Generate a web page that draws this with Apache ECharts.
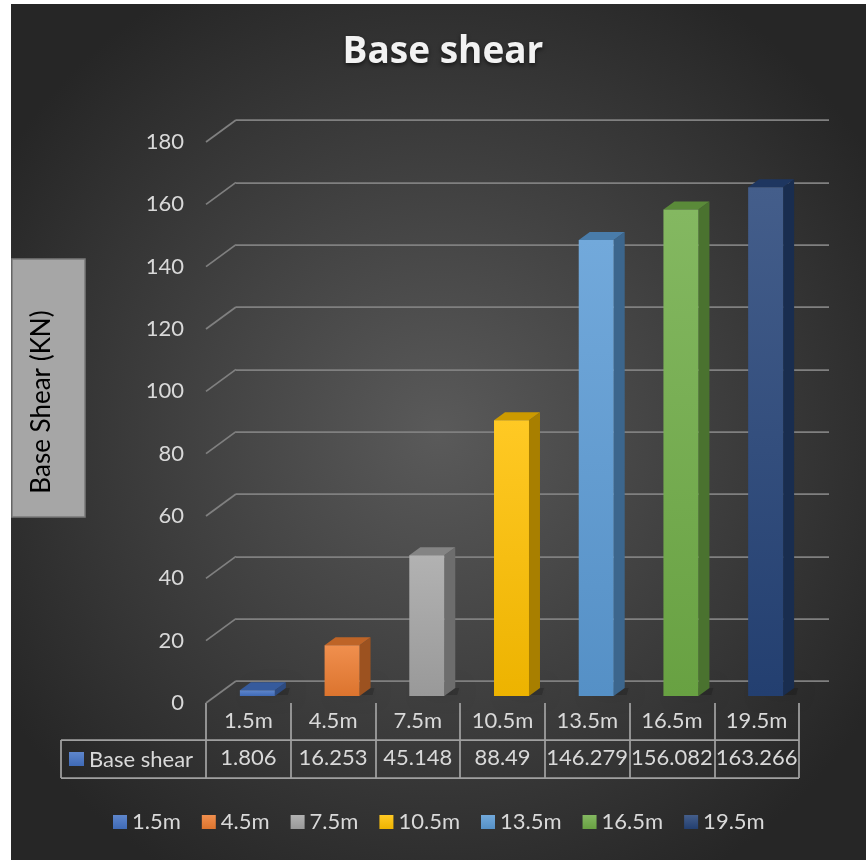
<!DOCTYPE html>
<html>
<head>
<meta charset="utf-8">
<script src="https://cdn.jsdelivr.net/npm/echarts@6/dist/echarts.min.js"></script>
<style>
  html, body { margin: 0; padding: 0; background: #ffffff; }
  #backdrop {
    position: absolute; left: 11px; top: 4px; width: 855px; height: 856px;
    background: radial-gradient(ellipse farthest-corner at 50% 50%, #5a5a5a 0%, #262626 85%);
  }
  #chart { position: absolute; left: 0; top: 0; width: 866px; height: 867px; }
</style>
</head>
<body>
<div id="backdrop"></div>
<div id="chart"></div>
<script>
// ---- data ----
const categories = ['1.5m', '4.5m', '7.5m', '10.5m', '13.5m', '16.5m', '19.5m'];
const baseShear = [1.806, 16.253, 45.148, 88.49, 146.279, 156.082, 163.266];
const yTicks = [0, 20, 40, 60, 80, 100, 120, 140, 160, 180];
const seriesName = 'Base shear';
const titleText = 'Base shear';
const yAxisTitle = 'Base Shear (KN)';

// ---- styles ----
const barColors = ['#4472c4', '#ed7d31', '#a5a5a5', '#ffc000', '#5b9bd5', '#70ad47', '#264478'];
const FONT = 'Lato, "Open Sans", sans-serif';
const TEXT_COLOR = '#d9d9d9';
const GRID_COLOR = '#808080';
const TABLE_COLOR = '#a0a0a0';

// ---- layout (pixels) ----
const FRONT = { left: 206, top: 142, width: 593, height: 561 };   // front plane of the floor
const BACK_OFF = { x: 30, y: -22 };                               // back wall offset
const BAR_OFF = { x: 9, y: -7 };                                  // plane of the bar fronts
const DEPTH = { x: 11, y: 8 };                                    // bar depth
const BAR_RATIO = 0.413;
const ROW_H = 37;

function mix(hex, target, t) {
  const a = parseInt(hex.slice(1), 16), b = parseInt(target.slice(1), 16);
  const ch = (s) => Math.round(((a >> s) & 255) * (1 - t) + ((b >> s) & 255) * t);
  return 'rgb(' + ch(16) + ',' + ch(8) + ',' + ch(0) + ')';
}
function frontGradient(c) {
  return new echarts.graphic.LinearGradient(0, 0, 0, 1, [
    { offset: 0, color: mix(c, '#ffffff', 0.14) },
    { offset: 1, color: mix(c, '#000000', 0.07) }
  ]);
}

function renderBar(params, api) {
  const idx = api.value(0);
  const v = api.value(1);
  const c = barColors[idx];
  const base = api.coord([idx, 0]);
  const top = api.coord([idx, v]);
  const bw = api.size([1, 0])[0] * BAR_RATIO;
  const x0 = base[0] - bw / 2, x1 = base[0] + bw / 2;
  const yb = base[1], yt = top[1];
  const dx = DEPTH.x, dy = DEPTH.y;
  return {
    type: 'group',
    children: [
      {
        type: 'polygon',
        shape: { points: [[x0 + 10, yb - 1], [x1 + dx + 2, yb - 1], [x1 + dx + 4, yb - dy], [x0 + dx + 10, yb - dy]] },
        style: { fill: 'rgba(0,0,0,0.18)', shadowBlur: 16, shadowColor: 'rgba(0,0,0,0.7)' }
      },
      {
        type: 'polygon',
        shape: { points: [[x1, yt], [x1 + dx, yt - dy], [x1 + dx, yb - dy], [x1, yb]] },
        style: { fill: mix(c, '#000000', 0.34) }
      },
      {
        type: 'polygon',
        shape: { points: [[x0, yt], [x0 + dx, yt - dy], [x1 + dx, yt - dy], [x1, yt]] },
        style: { fill: mix(c, '#000000', 0.2) }
      },
      {
        type: 'rect',
        shape: { x: x0, y: yt, width: bw, height: yb - yt },
        style: { fill: frontGradient(c) }
      }
    ]
  };
}

function renderSlant(params, api) {
  const y = api.coord([0, api.value(1)])[1];
  const cs = params.coordSys;
  return {
    type: 'line',
    shape: { x1: cs.x - BACK_OFF.x, y1: y - BACK_OFF.y, x2: cs.x, y2: y },
    style: { stroke: GRID_COLOR, lineWidth: 1.75 }
  };
}

const hiddenAxis = { show: false };
const yScale = { type: 'value', min: 0, max: 180, interval: 20 };

const barSeries = categories.map((name, i) => ({
  name: name,
  type: 'custom',
  xAxisIndex: 3,
  yAxisIndex: 2,
  data: [[i, baseShear[i]]],
  renderItem: renderBar,
  itemStyle: { color: frontGradient(barColors[i]) },
  z: 5,
  silent: true
}));

const tableRight = FRONT.left + FRONT.width;
const rowTop = FRONT.top + FRONT.height + ROW_H;
const rowLeft = 61;

const option = {
  animation: false,
  backgroundColor: 'transparent',
  title: {
    text: titleText,
    left: 438,
    top: 29,
    textAlign: 'center',
    textStyle: {
      color: '#f2f2f2', fontSize: 37, fontWeight: 'bold', fontFamily: '"Open Sans", Lato, sans-serif',
      textShadowColor: 'rgba(0,0,0,0.6)', textShadowBlur: 4, textShadowOffsetY: 2
    }
  },
  legend: {
    data: categories,
    icon: 'rect',
    itemWidth: 14,
    itemHeight: 14,
    itemGap: 21,
    left: 113,
    top: 811,
    padding: 0,
    textStyle: { color: TEXT_COLOR, fontSize: 22, fontFamily: FONT }
  },
  grid: [
    { left: FRONT.left, top: FRONT.top, width: FRONT.width, height: FRONT.height },
    { left: FRONT.left + BACK_OFF.x, top: FRONT.top + BACK_OFF.y, width: FRONT.width, height: FRONT.height },
    { left: FRONT.left + BAR_OFF.x, top: FRONT.top + BAR_OFF.y, width: FRONT.width, height: FRONT.height }
  ],
  xAxis: [
    {
      gridIndex: 0, type: 'category', data: categories, boundaryGap: true,
      axisLine: { show: false },
      axisTick: { show: true, length: ROW_H * 2 + 1, lineStyle: { color: TABLE_COLOR, width: 1.75 } },
      axisLabel: { interval: 0, margin: 7, color: TEXT_COLOR, fontSize: 22, fontFamily: FONT }
    },
    {
      gridIndex: 0, type: 'category', position: 'bottom', offset: ROW_H,
      data: baseShear.map(String),
      axisLine: { show: false }, axisTick: { show: false },
      axisLabel: { interval: 0, hideOverlap: false, margin: 7, color: TEXT_COLOR, fontSize: 22, fontFamily: FONT }
    },
    Object.assign({ gridIndex: 1, type: 'category', data: categories }, hiddenAxis),
    Object.assign({ gridIndex: 2, type: 'category', data: categories }, hiddenAxis)
  ],
  yAxis: [
    Object.assign({
      gridIndex: 0,
      axisLine: { show: false }, axisTick: { show: false }, splitLine: { show: false },
      axisLabel: { margin: 22, color: TEXT_COLOR, fontSize: 22, fontFamily: FONT }
    }, yScale),
    Object.assign({
      gridIndex: 1,
      axisLine: { show: false }, axisTick: { show: false }, axisLabel: { show: false },
      splitLine: { show: true, lineStyle: { color: GRID_COLOR, width: 1.75 } }
    }, yScale),
    Object.assign({ gridIndex: 2, show: false }, yScale)
  ],
  graphic: [
    // y-axis title box
    {
      type: 'rect', shape: { x: 12, y: 259, width: 73, height: 258 },
      style: { fill: '#a6a6a6', stroke: '#7a7a7a', lineWidth: 1.5 }
    },
    {
      type: 'text', x: 42, y: 402, rotation: Math.PI / 2,
      style: { text: yAxisTitle, fill: '#000000', font: '26px ' + FONT, align: 'center', verticalAlign: 'middle' }
    },
    // data table frame
    { type: 'line', shape: { x1: rowLeft, y1: rowTop, x2: tableRight, y2: rowTop }, style: { stroke: TABLE_COLOR, lineWidth: 1.75 } },
    { type: 'line', shape: { x1: rowLeft, y1: rowTop + ROW_H + 1, x2: tableRight, y2: rowTop + ROW_H + 1 }, style: { stroke: TABLE_COLOR, lineWidth: 1.75 } },
    { type: 'line', shape: { x1: rowLeft, y1: rowTop, x2: rowLeft, y2: rowTop + ROW_H + 1 }, style: { stroke: TABLE_COLOR, lineWidth: 1.75 } },
    {
      type: 'rect', shape: { x: 69, y: rowTop + 12, width: 15, height: 14 },
      style: { fill: frontGradient(barColors[0]) }
    },
    {
      type: 'text', x: 89, y: rowTop + ROW_H / 2 + 1,
      style: { text: seriesName, fill: TEXT_COLOR, font: '22px ' + FONT, verticalAlign: 'middle' }
    }
  ],
  series: barSeries.concat([
    {
      type: 'custom',
      xAxisIndex: 2,
      yAxisIndex: 1,
      data: yTicks.map(v => [0, v]),
      renderItem: renderSlant,
      silent: true,
      z: 1
    }
  ])
};

const chart = echarts.init(document.getElementById('chart'), null, { renderer: 'canvas' });
chart.setOption(option);
</script>
</body>
</html>
